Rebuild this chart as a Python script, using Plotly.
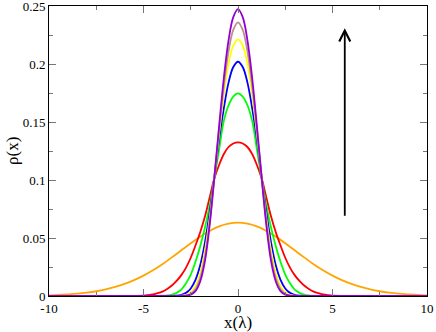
import plotly.graph_objects as go

# x grid for the wide (orange) curve
x_wide = [-10, -9.5, -9, -8.5, -8, -7.5, -7, -6.5, -6, -5.5, -5, -4.5, -4, -3.5, -3, -2.5, -2,
          -1.5, -1, -0.5, 0, 0.5, 1, 1.5, 2, 2.5, 3, 3.5, 4, 4.5, 5, 5.5, 6, 6.5, 7, 7.5,
          8, 8.5, 9, 9.5, 10]
# x grid for the narrow curves
x_narrow = [-10, -5, -4.75, -4.5, -4.25, -4, -3.75, -3.5, -3.25, -3, -2.75, -2.5, -2.25,
            -2, -1.75, -1.5, -1.25, -1, -0.75, -0.5, -0.25, 0, 0.25, 0.5, 0.75, 1, 1.25,
            1.5, 1.75, 2, 2.25, 2.5, 2.75, 3, 3.25, 3.5, 3.75, 4, 4.25, 4.5, 4.75, 5, 10]

# densities
rho_orange = [0.0006, 0.0009, 0.0014, 0.0020, 0.0029, 0.0041, 0.0057, 0.0078, 0.0104, 0.0137,
              0.0176, 0.0222, 0.0274, 0.0333, 0.0394, 0.0455, 0.0512, 0.0561, 0.0600, 0.0624,
              0.0632,
              0.0624, 0.0600, 0.0561, 0.0512, 0.0455, 0.0394, 0.0333, 0.0274, 0.0222, 0.0176,
              0.0137, 0.0104, 0.0078, 0.0057, 0.0041, 0.0029, 0.0020, 0.0014, 0.0009, 0.0006]
rho_red = [0,
           0.0004, 0.0008, 0.0014, 0.0024, 0.0038, 0.0060, 0.0090, 0.0130, 0.0180, 0.0245,
           0.0330, 0.0435, 0.0550, 0.0685, 0.0850, 0.1015, 0.1130, 0.1225, 0.1285, 0.1315,
           0.1325,
           0.1315, 0.1285, 0.1225, 0.1130, 0.1015, 0.0850, 0.0685, 0.0550, 0.0435, 0.0330,
           0.0245, 0.0180, 0.0130, 0.0090, 0.0060, 0.0038, 0.0024, 0.0014, 0.0008, 0.0004,
           0]
rho_green = [0,
             0, 0, 0, 0, 0.0002, 0.0005, 0.0012, 0.0027, 0.0055, 0.0110,
             0.0185, 0.0295, 0.0430, 0.0590, 0.0780, 0.1015, 0.1265, 0.1510, 0.1645, 0.1720,
             0.1747,
             0.1720, 0.1645, 0.1510, 0.1265, 0.1015, 0.0780, 0.0590, 0.0430, 0.0295, 0.0185,
             0.0110, 0.0055, 0.0027, 0.0012, 0.0005, 0.0002, 0, 0, 0, 0,
             0]
rho_blue = [0,
            0, 0, 0, 0, 0, 0, 0.0001, 0.0003, 0.0010, 0.0027,
            0.0065, 0.0140, 0.0265, 0.0460, 0.0720, 0.1025, 0.1350, 0.1620, 0.1840, 0.1975,
            0.2020,
            0.1975, 0.1840, 0.1620, 0.1350, 0.1025, 0.0720, 0.0460, 0.0265, 0.0140, 0.0065,
            0.0027, 0.0010, 0.0003, 0.0001, 0, 0, 0, 0, 0, 0,
            0]
rho_yellow = [0,
              0, 0, 0, 0, 0, 0, 0, 0, 0.0003, 0.0010,
              0.0030, 0.0085, 0.0195, 0.0390, 0.0670, 0.1025, 0.1400, 0.1740, 0.2005, 0.2160,
              0.2213,
              0.2160, 0.2005, 0.1740, 0.1400, 0.1025, 0.0670, 0.0390, 0.0195, 0.0085, 0.0030,
              0.0010, 0.0003, 0, 0, 0, 0, 0, 0, 0, 0,
              0]
rho_brown = [0,
             0, 0, 0, 0, 0, 0, 0, 0, 0.0001, 0.0005,
             0.0018, 0.0060, 0.0155, 0.0340, 0.0635, 0.1025, 0.1435, 0.1810, 0.2110, 0.2295,
             0.2360,
             0.2295, 0.2110, 0.1810, 0.1435, 0.1025, 0.0635, 0.0340, 0.0155, 0.0060, 0.0018,
             0.0005, 0.0001, 0, 0, 0, 0, 0, 0, 0, 0,
             0]
rho_violet = [0,
              0, 0, 0, 0, 0, 0, 0, 0, 0, 0.0002,
              0.0012, 0.0042, 0.0125, 0.0300, 0.0610, 0.1025, 0.1465, 0.1880, 0.2205, 0.2405,
              0.2474,
              0.2405, 0.2205, 0.1880, 0.1465, 0.1025, 0.0610, 0.0300, 0.0125, 0.0042, 0.0012,
              0.0002, 0, 0, 0, 0, 0, 0, 0, 0, 0,
              0]

x_tick_vals = [-10, -5, 0, 5, 10]
x_tick_text = ["-10", "-5", "0", "5", "10"]
y_tick_vals = [0, 0.05, 0.1, 0.15, 0.2, 0.25]
y_tick_text = ["0", "0.05", "0.1", "0.15", "0.2", "0.25"]

# arrow: x position and vertical extent
arrow_x = 5.65
arrow_y0 = 0.068
arrow_y1 = 0.231

curves = [
    (x_wide, rho_orange, "#FFA500"),
    (x_narrow, rho_red, "#FF0000"),
    (x_narrow, rho_green, "#00FF00"),
    (x_narrow, rho_blue, "#0000FF"),
    (x_narrow, rho_yellow, "#FFFF00"),
    (x_narrow, rho_brown, "#BC8F8F"),
    (x_narrow, rho_violet, "#9400D3"),
]

fig = go.Figure()
for xs, rho, color in curves:
    fig.add_trace(
        go.Scatter(
            x=xs,
            y=rho,
            mode="lines",
            line=dict(color=color, width=1.8, shape="spline", smoothing=1.0),
            showlegend=False,
            hoverinfo="skip",
        )
    )

fig.add_annotation(
    x=arrow_x, y=arrow_y1, ax=arrow_x, ay=arrow_y0,
    xref="x", yref="y", axref="x", ayref="y",
    showarrow=True, arrowhead=5, arrowsize=1.2, arrowwidth=1.8,
    arrowcolor="black", text="",
)

font = "Liberation Serif, Times New Roman, serif"
# axis titles placed by hand
fig.add_annotation(
    x=0.5, y=-0.09, xref="paper", yref="paper", text="x(λ)", showarrow=False,
    xanchor="center", yanchor="middle", font=dict(family=font, size=17, color="black"),
)
fig.add_annotation(
    x=-0.098, y=0.5, xref="paper", yref="paper", text="ρ(x)", showarrow=False,
    textangle=-90, xanchor="center", yanchor="middle",
    font=dict(family=font, size=17, color="black"),
)

axis_common = dict(
    showline=True, linecolor="black", linewidth=1, mirror="ticks",
    ticks="inside", ticklen=7, tickcolor="#777", tickwidth=1,
    showgrid=False, zeroline=False, automargin=False, ticklabeloverflow="allow",
    tickfont=dict(family=font, size=13, color="black"),
)
fig.update_xaxes(
    range=[-10.001, 10.001], tickvals=x_tick_vals, ticktext=x_tick_text,
    minor=dict(ticks="inside", ticklen=4, dtick=2.5, tick0=0, tickcolor="#777"),
    **axis_common,
)
fig.update_yaxes(
    range=[0, 0.2501], tickvals=y_tick_vals, ticktext=y_tick_text,
    minor=dict(ticks="inside", ticklen=4, dtick=0.025, tick0=0, tickcolor="#777"),
    **axis_common,
)
fig.update_layout(
    width=436, height=332,
    margin=dict(l=49, r=9, t=6, b=36),
    paper_bgcolor="white", plot_bgcolor="white",
    font=dict(family=font, color="black"),
)

fig.write_html("out.html", config={"displayModeBar": False})

# drop the browser's default page margin so the figure sits at the corner
with open("out.html", encoding="utf-8") as f:
    page = f.read()
page = page.replace("<body>", '<body style="margin:0;overflow:hidden">', 1)
with open("out.html", "w", encoding="utf-8") as f:
    f.write(page)
